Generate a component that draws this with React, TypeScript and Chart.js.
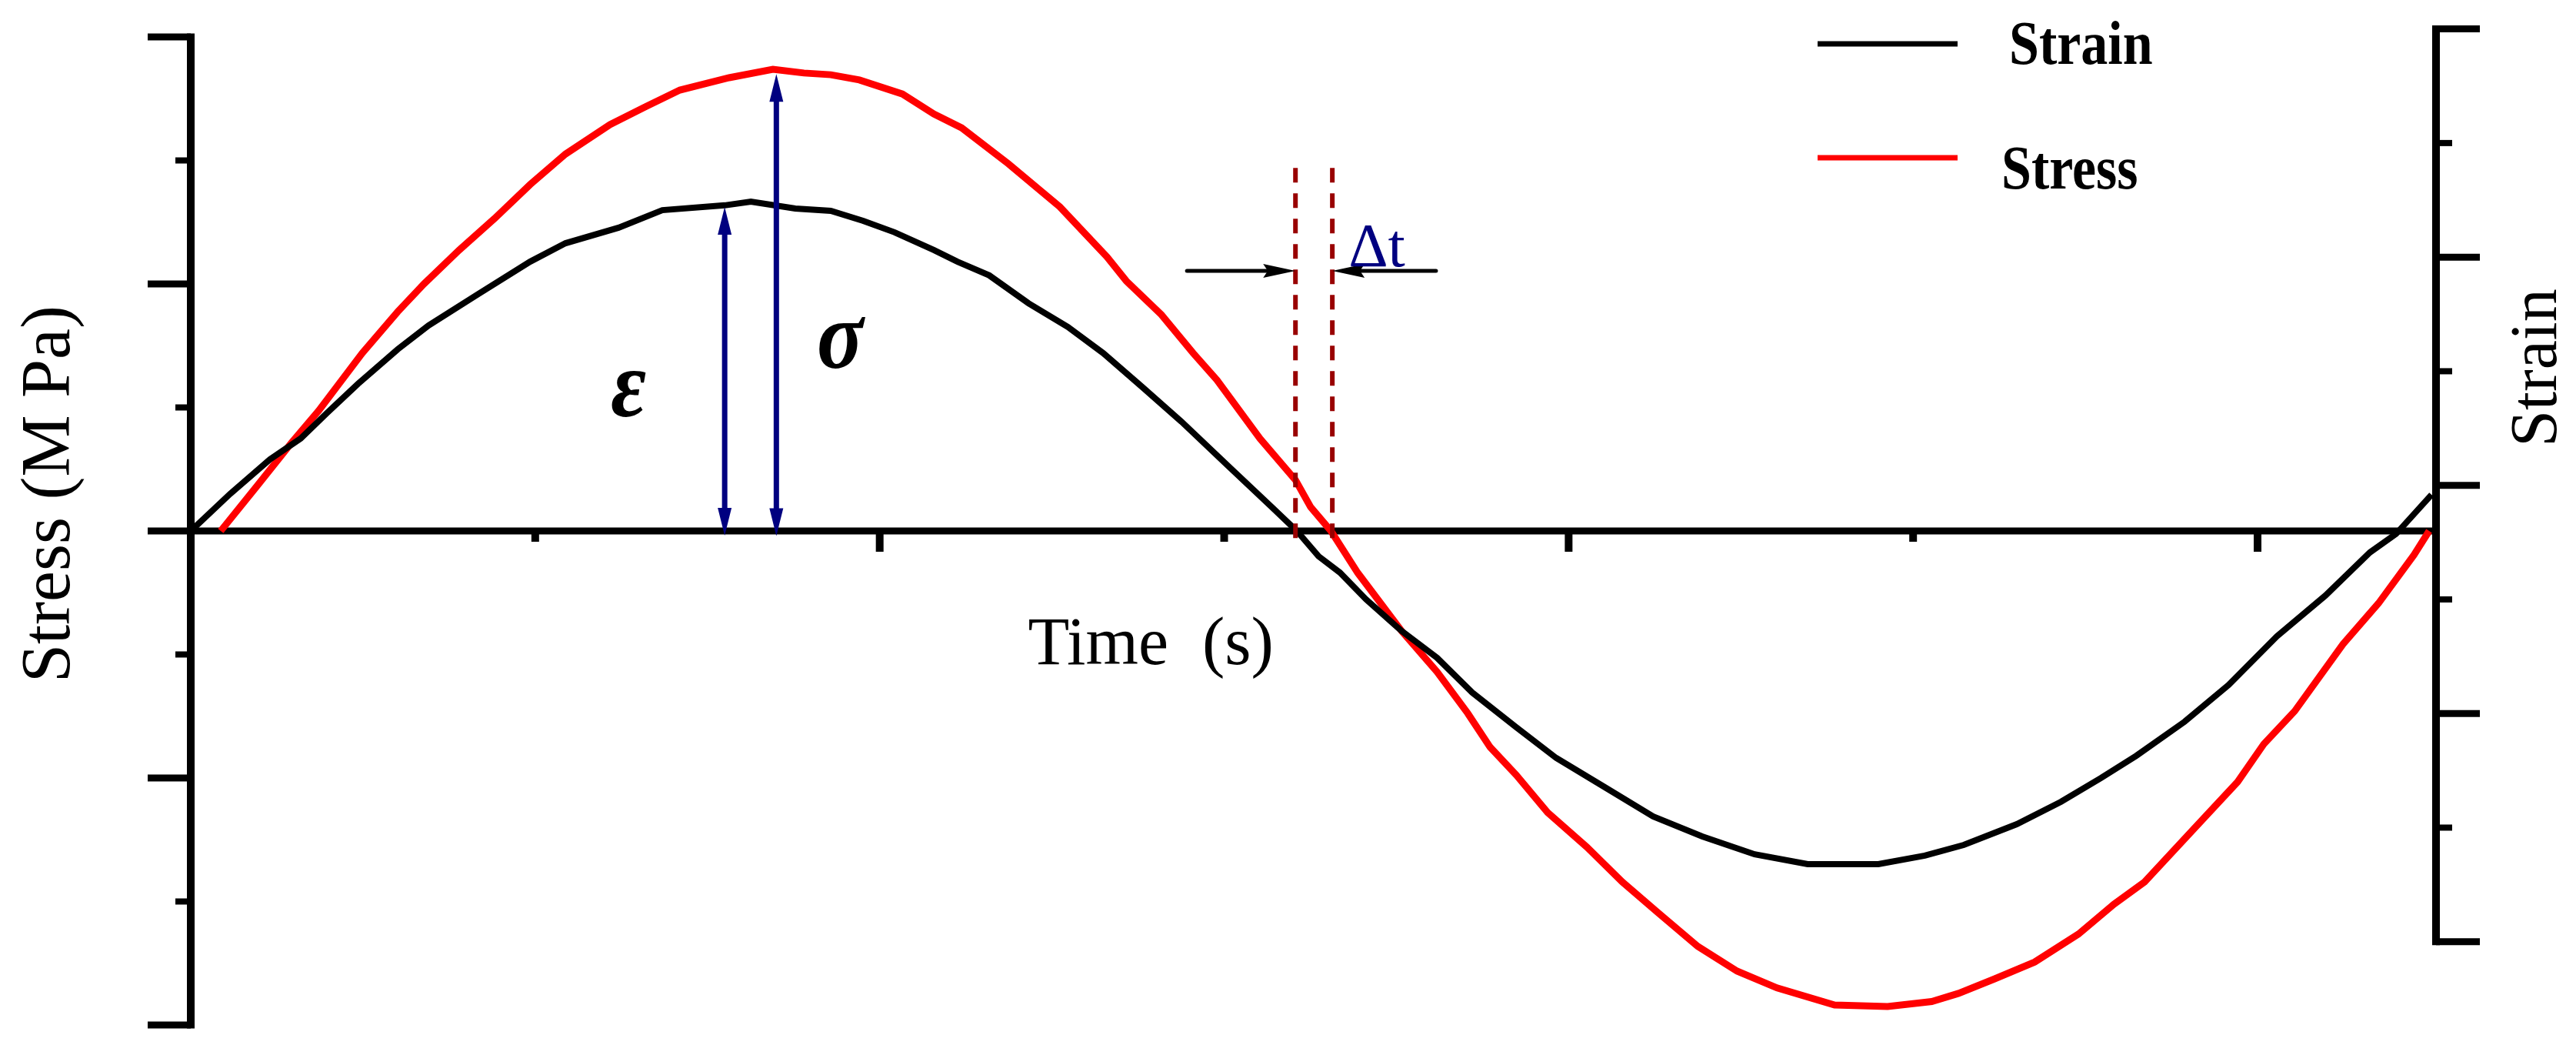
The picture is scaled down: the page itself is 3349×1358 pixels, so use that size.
import React, { useEffect, useRef } from "react";
import { Chart, registerables } from "chart.js";

Chart.register(...registerables);

// ---------- data ----------
const seriesLabels = ["Strain", "Stress"];
const seriesColors = ["#000000", "#ff0000"];

const timeStrain = [
  0, 0.114, 0.23, 0.319, 0.395, 0.485, 0.601, 0.69, 0.831, 0.985, 1.088, 1.242, 1.369, 1.55, 1.626,
  1.755, 1.858, 1.952, 2.043, 2.157, 2.226, 2.318, 2.432, 2.546, 2.649, 2.762, 2.876, 3.013, 3.138,
  3.211, 3.274, 3.336, 3.412, 3.515, 3.618, 3.72, 3.848, 3.964, 4.105, 4.245, 4.388, 4.54, 4.694,
  4.899, 5.034, 5.147, 5.301, 5.429, 5.545, 5.648, 5.788, 5.916, 6.056, 6.197, 6.326, 6.402, 6.505,
];
const strainValues = [
  0, 0.162, 0.314, 0.405, 0.516, 0.644, 0.796, 0.9, 1.035, 1.18, 1.261, 1.329, 1.406, 1.427, 1.443,
  1.413, 1.403, 1.359, 1.309, 1.231, 1.18, 1.12, 0.998, 0.894, 0.779, 0.631, 0.479, 0.283, 0.105,
  0.0, -0.111, -0.182, -0.3, -0.438, -0.556, -0.708, -0.86, -0.995, -1.123, -1.251, -1.339, -1.417,
  -1.46, -1.46, -1.423, -1.376, -1.285, -1.187, -1.083, -0.985, -0.836, -0.675, -0.462, -0.283,
  -0.094, -0.013, 0.159,
];

const timeStress = [
  0.087, 0.19, 0.293, 0.371, 0.498, 0.601, 0.677, 0.779, 0.882, 0.985, 1.088, 1.217, 1.32, 1.42,
  1.563, 1.69, 1.78, 1.858, 1.941, 2.066, 2.157, 2.238, 2.374, 2.523, 2.66, 2.716, 2.818, 2.91,
  2.979, 3.104, 3.207, 3.251, 3.31, 3.388, 3.515, 3.618, 3.707, 3.772, 3.848, 3.939, 4.053, 4.156,
  4.259, 4.375, 4.489, 4.605, 4.772, 4.926, 5.054, 5.132, 5.237, 5.353, 5.48, 5.583, 5.672, 5.813,
  5.942, 6.018, 6.108, 6.248, 6.351, 6.454, 6.498,
];
const stressValues = [
  0, 0.178, 0.358, 0.486, 0.72, 0.888, 1.0, 1.137, 1.265, 1.402, 1.526, 1.645, 1.717, 1.785, 1.835,
  1.869, 1.854, 1.847, 1.826, 1.769, 1.688, 1.632, 1.486, 1.312, 1.109, 1.012, 0.875, 0.72, 0.611,
  0.374, 0.206, 0.097, 0.0, -0.17, -0.405, -0.57, -0.738, -0.875, -0.988, -1.14, -1.28, -1.421,
  -1.545, -1.682, -1.782, -1.85, -1.919, -1.925, -1.905, -1.872, -1.813, -1.745, -1.632, -1.511,
  -1.421, -1.209, -1.016, -0.863, -0.729, -0.458, -0.293, -0.097, 0.0,
];

// axes (no tick labels in the reference, only tick marks)
const timeMin = 0;
const timeMax = 6.518;
const timeMajorTicks = [2, 4, 6];
const timeMinorTicks = [1, 3, 5];
const stressMin = -2;
const stressMax = 2;
const stressMajorTicks = [2, 1, 0, -1, -2];
const stressMinorTicks = [1.5, 0.5, -0.5, -1.5];
const strainMin = -2.165;
const strainMax = 2.165;
const strainMajorTicks = [2.2, 1.2, 0.2, -0.8, -1.8];
const strainMinorTicks = [1.7, 0.7, -0.3, -1.3];

// annotation anchors, in data units
const epsArrow = { t: 1.55, from: -0.02, to: 1.42 }; // on strain axis
const sigArrow = { t: 1.7, from: -0.02, to: 1.85 }; // on stress axis
const lagLines = [3.207, 3.314]; // dashed lines (time)
const lagLineRange = [1.47, -0.03]; // stress units
const lagArrowLevel = 1.053;
const lagArrowStarts = [2.892, 3.615];
const epsLabel = { t: 1.271, v: 0.564 };
const sigLabel = { t: 1.885, v: 0.76 };
const dtLabel = { t: 3.361, v: 1.072 };
const timeLabel = { t: 2.787, v: -0.539 };

const SERIF = '"Liberation Serif", "Times New Roman", serif';

function line(ctx: CanvasRenderingContext2D, x1: number, y1: number, x2: number, y2: number) {
  ctx.beginPath();
  ctx.moveTo(x1, y1);
  ctx.lineTo(x2, y2);
  ctx.stroke();
}

function arrowHead(
  ctx: CanvasRenderingContext2D,
  tx: number,
  ty: number,
  dx: number,
  dy: number,
  len: number,
  half: number,
  notch = 0
) {
  const nx = -dy;
  const ny = dx;
  ctx.beginPath();
  ctx.moveTo(tx, ty);
  ctx.lineTo(tx - dx * len + nx * half, ty - dy * len + ny * half);
  ctx.lineTo(tx - dx * (len - notch), ty - dy * (len - notch));
  ctx.lineTo(tx - dx * len - nx * half, ty - dy * len - ny * half);
  ctx.closePath();
  ctx.fill();
}

const decorPlugin = {
  id: "decor",
  beforeDatasetsDraw(chart: any) {
    const ctx: CanvasRenderingContext2D = chart.ctx;
    const xs = chart.scales.x;
    const ys = chart.scales.y;
    const y2 = chart.scales.y2;
    const xL = xs.getPixelForValue(timeMin);
    const xR = xs.getPixelForValue(timeMax);
    const y0 = ys.getPixelForValue(0);
    ctx.save();
    ctx.strokeStyle = "#000";
    ctx.lineCap = "butt";

    // zero line (time axis)
    ctx.lineWidth = 9;
    line(ctx, xL, y0, xR, y0);
    ctx.lineWidth = 10;
    timeMajorTicks.forEach((t) => {
      const px = xs.getPixelForValue(t);
      line(ctx, px, y0, px, y0 + 27);
    });
    timeMinorTicks.forEach((t) => {
      const px = xs.getPixelForValue(t);
      line(ctx, px, y0, px, y0 + 14);
    });

    // left (stress) axis
    const lTop = ys.getPixelForValue(Math.max(...stressMajorTicks));
    const lBot = ys.getPixelForValue(Math.min(...stressMajorTicks));
    ctx.lineWidth = 10;
    line(ctx, xL, lTop - 4.5, xL, lBot + 4.5);
    ctx.lineWidth = 9;
    stressMajorTicks.forEach((v) => {
      const py = ys.getPixelForValue(v);
      line(ctx, xL - 56, py, xL, py);
    });
    ctx.lineWidth = 8;
    stressMinorTicks.forEach((v) => {
      const py = ys.getPixelForValue(v);
      line(ctx, xL - 20, py, xL, py);
    });

    // right (strain) axis
    const rTop = y2.getPixelForValue(Math.max(...strainMajorTicks));
    const rBot = y2.getPixelForValue(Math.min(...strainMajorTicks));
    ctx.lineWidth = 10;
    line(ctx, xR, rTop - 4.5, xR, rBot + 4.5);
    ctx.lineWidth = 9;
    strainMajorTicks.forEach((v) => {
      const py = y2.getPixelForValue(v);
      line(ctx, xR, py, xR + 57, py);
    });
    ctx.lineWidth = 8;
    strainMinorTicks.forEach((v) => {
      const py = y2.getPixelForValue(v);
      line(ctx, xR, py, xR + 21, py);
    });
    ctx.restore();
  },
  afterDatasetsDraw(chart: any) {
    const ctx: CanvasRenderingContext2D = chart.ctx;
    const xs = chart.scales.x;
    const ys = chart.scales.y;
    const y2 = chart.scales.y2;
    ctx.save();

    // dashed lag lines
    ctx.strokeStyle = "#990000";
    ctx.lineWidth = 6;
    ctx.setLineDash([19, 14]);
    lagLines.forEach((t) => {
      const px = xs.getPixelForValue(t);
      line(ctx, px, ys.getPixelForValue(lagLineRange[0]), px, ys.getPixelForValue(lagLineRange[1]));
    });
    ctx.setLineDash([]);

    // black lag arrows
    ctx.strokeStyle = "#000";
    ctx.fillStyle = "#000";
    ctx.lineWidth = 5;
    ctx.lineCap = "round";
    const ay = ys.getPixelForValue(lagArrowLevel);
    lagArrowStarts.forEach((t, i) => {
      const sx = xs.getPixelForValue(t);
      const tx = xs.getPixelForValue(lagLines[i]);
      const dir = tx > sx ? 1 : -1;
      line(ctx, sx, ay, tx - dir * 20, ay);
      arrowHead(ctx, tx, ay, dir, 0, 42, 9, 6);
    });
    ctx.lineCap = "butt";

    // blue amplitude arrows
    ctx.strokeStyle = "#000080";
    ctx.fillStyle = "#000080";
    ctx.lineWidth = 7;
    const drawDouble = (px: number, pa: number, pb: number) => {
      line(ctx, px, pa - 30, px, pb + 30);
      arrowHead(ctx, px, pa, 0, 1, 36, 9);
      arrowHead(ctx, px, pb, 0, -1, 36, 9);
    };
    drawDouble(
      xs.getPixelForValue(epsArrow.t),
      y2.getPixelForValue(epsArrow.from),
      y2.getPixelForValue(epsArrow.to)
    );
    drawDouble(
      xs.getPixelForValue(sigArrow.t),
      ys.getPixelForValue(sigArrow.from),
      ys.getPixelForValue(sigArrow.to)
    );

    // texts
    const stretchText = (
      text: string,
      x: number,
      y: number,
      font: string,
      color: string,
      align: CanvasTextAlign,
      sy: number,
      baseline: CanvasTextBaseline = "alphabetic"
    ) => {
      ctx.save();
      ctx.translate(x, y);
      ctx.scale(1, sy);
      ctx.font = font;
      ctx.fillStyle = color;
      ctx.textAlign = align;
      ctx.textBaseline = baseline;
      ctx.fillText(text, 0, 0);
      ctx.restore();
    };

    stretchText(
      "ε",
      xs.getPixelForValue(epsLabel.t),
      ys.getPixelForValue(epsLabel.v),
      `italic bold 112px ${SERIF}`,
      "#000",
      "center",
      1.12,
      "middle"
    );
    stretchText(
      "σ",
      xs.getPixelForValue(sigLabel.t),
      ys.getPixelForValue(sigLabel.v),
      `italic bold 112px ${SERIF}`,
      "#000",
      "center",
      1.12,
      "middle"
    );
    stretchText(
      "Δt",
      xs.getPixelForValue(dtLabel.t),
      ys.getPixelForValue(dtLabel.v),
      `80px ${SERIF}`,
      "#000080",
      "left",
      1.0
    );
    stretchText(
      "Time  (s)",
      xs.getPixelForValue(timeLabel.t),
      ys.getPixelForValue(timeLabel.v),
      `88px ${SERIF}`,
      "#000",
      "center",
      1.0
    );

    // axis titles (rotated)
    const rotText = (text: string, x: number, y: number, size: number) => {
      ctx.save();
      ctx.translate(x, y);
      ctx.rotate(-Math.PI / 2);
      ctx.font = `${size}px ${SERIF}`;
      ctx.fillStyle = "#000";
      ctx.textAlign = "center";
      ctx.textBaseline = "alphabetic";
      ctx.fillText(text, 0, 0);
      ctx.restore();
    };
    rotText("Stress (M Pa)", 90, 642, 90);
    rotText("Strain", 3323, 478, 86);

    // legend
    const legLineY = [57, 205];
    const legTextY = [83, 245];
    const legTextX = [2612, 2602];
    chart.data.datasets.forEach((ds: any, i: number) => {
      ctx.strokeStyle = ds.borderColor;
      ctx.lineWidth = 7;
      line(ctx, 2363, legLineY[i], 2545, legLineY[i]);
      stretchText(ds.label, legTextX[i], legTextY[i], `bold 70px ${SERIF}`, "#000", "left", 1.15);
    });

    ctx.restore();
  },
};

export default function App() {
  const canvasRef = useRef<HTMLCanvasElement | null>(null);

  useEffect(() => {
    if (!canvasRef.current) return;
    const chart = new Chart(canvasRef.current, {
      type: "line",
      data: {
        datasets: [
          {
            label: seriesLabels[0],
            data: timeStrain.map((t, i) => ({ x: t, y: strainValues[i] })),
            borderColor: seriesColors[0],
            borderWidth: 8,
            yAxisID: "y2",
            pointRadius: 0,
            tension: 0,
          },
          {
            label: seriesLabels[1],
            data: timeStress.map((t, i) => ({ x: t, y: stressValues[i] })),
            borderColor: seriesColors[1],
            borderWidth: 9,
            yAxisID: "y",
            pointRadius: 0,
            tension: 0,
          },
        ],
      },
      options: {
        animation: false,
        responsive: false,
        devicePixelRatio: 1,
        layout: { padding: { left: 248, right: 182, top: 48, bottom: 26 } },
        plugins: { legend: { display: false }, tooltip: { enabled: false }, title: { display: false } },
        scales: {
          x: { type: "linear", min: timeMin, max: timeMax, display: false },
          y: { type: "linear", min: stressMin, max: stressMax, display: false },
          y2: { type: "linear", min: strainMin, max: strainMax, display: false, position: "right" },
        },
      },
      plugins: [decorPlugin],
    } as any);
    return () => chart.destroy();
  }, []);

  return (
    <div style={{ position: "fixed", left: 0, top: 0, width: 3349, height: 1358, background: "#fff" }}>
      <canvas ref={canvasRef} width={3349} height={1358} style={{ width: 3349, height: 1358 }} />
    </div>
  );
}
